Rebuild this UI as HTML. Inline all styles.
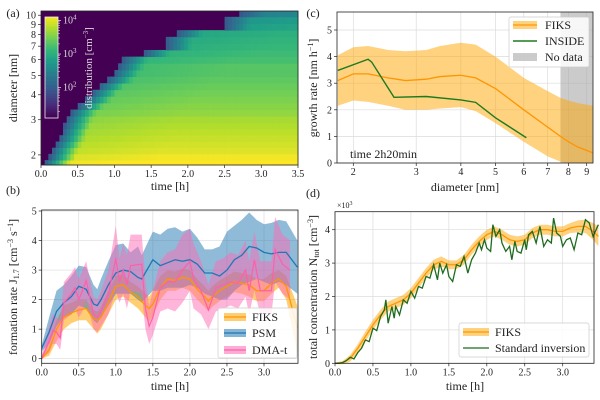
<!DOCTYPE html>
<html><head><meta charset="utf-8"><style>
html,body{margin:0;padding:0;background:#fff}
svg{display:block;font-family:"Liberation Serif","DejaVu Serif",serif}
</style></head><body>
<svg id="fig" width="600" height="400" viewBox="0 0 600 400" xmlns="http://www.w3.org/2000/svg"></svg>
<script>
// ---------- Panel (a) data ----------
const aRowDiam = [1.82,1.95,2.1,2.25,2.42,2.6,2.8,3.0,3.25,3.5,3.78,4.08,4.4,4.75,5.12,5.53,5.97,6.45,6.96,7.5,8.1,8.75,9.45,10.2];
const aRowOnset = [0.05,0.12,0.15,0.2,0.25,0.28,0.32,0.35,0.4,0.5,0.6,0.68,0.78,0.9,0.98,1.05,1.1,1.4,1.7,1.7,1.85,2.5,2.5,2.7];
const aRowPeak = [4.15,4.05,3.95,3.9,3.85,3.8,3.75,3.7,3.6,3.55,3.5,3.45,3.4,3.35,3.3,3.3,3.2,3.15,3.1,3.05,3.0,2.9,2.8,2.55];
// ---------- Panel (b) data ----------
const bPsmT = [0,0.1,0.2,0.3,0.4,0.5,0.6,0.7,0.75,0.8,0.9,1.0,1.1,1.2,1.3,1.35,1.5,1.6,1.7,1.8,1.9,2.0,2.1,2.2,2.3,2.4,2.5,2.6,2.7,2.8,2.9,3.0,3.1,3.2,3.3,3.45];
const bPsm = [0.35,0.9,1.6,1.9,2.1,2.45,2.35,1.85,1.8,2.0,2.5,2.9,3.0,2.95,2.75,2.7,3.35,3.15,3.25,3.35,3.3,3.35,3.2,2.9,2.9,2.8,3.0,3.35,3.5,3.8,3.75,3.6,3.55,3.6,3.6,3.1];
const bPsmHi = [0.45,1.4,2.3,2.5,2.8,3.15,3.1,2.5,2.35,2.7,3.3,3.85,3.9,3.6,3.8,3.5,4.3,4.2,4.4,4.45,4.3,4.4,4.1,3.7,3.7,3.8,4.3,4.5,4.7,4.95,4.7,4.55,4.6,4.7,4.65,4.0];
const bPsmLo = [0.25,0.5,1.1,1.4,1.5,1.8,1.7,1.3,1.2,1.4,1.8,2.2,2.2,2.2,2.0,1.9,2.3,2.3,2.4,2.4,2.4,2.5,2.4,2.2,2.1,2.0,2.0,2.3,2.5,2.6,2.7,2.6,2.5,2.6,2.5,2.2];
const bFiksT = [0,0.1,0.2,0.3,0.4,0.5,0.6,0.7,0.75,0.8,0.9,1.0,1.1,1.2,1.3,1.4,1.45,1.5,1.6,1.7,1.8,1.9,2.0,2.1,2.2,2.25,2.3,2.4,2.5,2.6,2.7,2.8,2.9,3.0,3.1,3.2,3.3,3.45];
const bFiks = [0.0,0.3,1.0,1.4,1.55,1.65,1.7,1.35,1.3,1.4,1.9,2.45,2.5,2.25,2.1,1.8,1.7,1.85,2.4,2.7,2.65,2.75,2.7,2.35,2.1,1.95,2.1,2.3,2.45,2.6,2.55,2.5,2.3,2.3,2.55,2.7,2.45,1.05];
const bFiksHi = [0.1,0.6,1.3,1.8,1.9,2.0,2.0,1.65,1.6,1.75,2.3,2.8,2.85,2.6,2.45,2.2,2.1,2.3,2.8,3.0,2.95,3.05,3.0,2.7,2.45,2.3,2.45,2.65,2.8,2.95,2.9,2.85,2.7,2.7,2.9,3.0,2.8,1.8];
const bFiksLo = [0.0,0.1,0.6,1.0,1.2,1.3,1.3,1.0,0.85,1.0,1.5,2.0,2.1,1.9,1.7,1.4,1.25,1.45,2.0,2.3,2.3,2.4,2.3,2.0,1.75,1.6,1.75,1.95,2.1,2.25,2.2,2.1,1.95,1.95,2.2,2.4,2.0,0.2];
const bDmaT = [0,0.1,0.15,0.2,0.25,0.3,0.4,0.45,0.5,0.55,0.6,0.7,0.75,0.8,0.9,1.0,1.05,1.1,1.15,1.2,1.35,1.4,1.45,1.5,1.6,1.7,1.8,1.9,2.0,2.05,2.15,2.25,2.35,2.45,2.55,2.65,2.75,2.8,2.87,2.95,3.1,3.15,3.25,3.35];
const bDma = [0.0,0.6,0.95,0.9,0.7,1.9,2.2,2.4,2.0,2.3,2.65,1.5,1.4,1.6,2.2,3.4,2.6,3.0,2.5,3.15,3.2,1.7,1.1,1.4,2.4,2.6,2.6,3.0,3.3,2.7,2.3,1.65,2.4,2.5,2.6,2.55,3.0,2.3,3.35,2.3,2.3,3.7,3.2,3.0];
const bDmaHi = [0.1,1.1,1.5,1.4,1.3,2.6,2.9,3.1,2.7,3.0,3.3,2.1,2.0,2.3,3.0,4.5,3.4,3.9,3.5,4.2,4.2,2.6,1.8,2.3,3.3,3.6,3.7,4.2,4.4,3.9,3.3,2.5,3.3,3.4,3.6,3.5,4.0,3.3,4.3,3.3,3.3,4.8,4.2,4.0];
const bDmaLo = [0.0,0.2,0.5,0.5,0.3,1.3,1.5,1.7,1.4,1.6,2.0,1.0,0.9,1.1,1.5,2.3,1.9,2.2,1.7,2.3,2.2,1.0,0.5,0.8,1.6,1.7,1.6,1.9,2.3,1.7,1.5,1.0,1.6,1.7,1.8,1.7,2.1,1.5,2.3,1.5,1.5,2.6,2.2,2.0];
// ---------- Panel (c) data ----------
const cFiksD = [1.81,2.0,2.2,2.5,2.8,3.2,3.5,4.0,4.4,5.0,6.0,7.0,7.6,8.0,8.5,9.37];
const cFiks = [3.1,3.35,3.35,3.2,3.1,3.15,3.25,3.3,3.2,2.8,2.0,1.35,1.0,0.8,0.6,0.38];
const cFiksHi = [4.05,4.35,4.4,4.25,4.2,4.25,4.4,4.52,4.45,4.0,3.2,2.7,2.45,2.35,2.25,2.15];
const cFiksLo = [2.15,2.35,2.3,2.15,2.0,2.0,2.05,2.1,1.95,1.5,0.8,0.25,0.05,0,0,0];
const cInsideD = [1.81,2.2,2.25,2.6,3.2,4.0,4.4,5.0,6.1];
const cInside = [3.48,3.9,3.8,2.47,2.5,2.37,2.28,1.7,0.95];
// ---------- Panel (d) data ----------
const dFiksT = [0,0.1,0.2,0.3,0.4,0.5,0.6,0.7,0.8,0.9,1.0,1.1,1.2,1.3,1.4,1.5,1.6,1.7,1.8,1.9,2.0,2.1,2.2,2.3,2.4,2.5,2.6,2.7,2.8,2.9,3.0,3.1,3.2,3.3,3.4,3.47];
const dFiks = [0,0.02,0.15,0.45,0.8,1.15,1.45,1.7,1.8,1.9,2.1,2.4,2.7,2.95,3.05,2.95,2.95,3.1,3.4,3.65,3.85,3.95,3.85,3.7,3.65,3.7,3.9,4.0,4.0,3.95,3.95,4.05,4.1,4.1,3.95,3.8];
const dFiksErr = [0.02,0.05,0.1,0.12,0.15,0.15,0.15,0.15,0.15,0.15,0.15,0.15,0.15,0.15,0.15,0.13,0.13,0.15,0.15,0.15,0.15,0.15,0.15,0.15,0.15,0.15,0.15,0.15,0.15,0.15,0.15,0.15,0.18,0.2,0.25,0.3];
const dStdT = [0,0.05,0.1,0.15,0.2,0.25,0.3,0.35,0.4,0.45,0.5,0.55,0.6,0.65,0.67,0.7,0.75,0.78,0.8,0.85,0.9,0.95,1.0,1.05,1.1,1.15,1.2,1.25,1.3,1.35,1.38,1.42,1.47,1.5,1.55,1.6,1.65,1.7,1.75,1.8,1.85,1.9,1.93,1.97,2.0,2.05,2.08,2.12,2.17,2.2,2.25,2.3,2.33,2.37,2.4,2.45,2.5,2.52,2.55,2.6,2.65,2.7,2.75,2.8,2.85,2.88,2.92,2.97,3.0,3.05,3.1,3.15,3.2,3.25,3.3,3.35,3.4,3.47];
const dStd = [0,0,0.02,0.08,0.18,0.13,0.32,0.45,0.7,0.65,1.05,0.98,1.4,1.6,1.9,1.2,1.7,1.35,1.7,1.45,1.9,1.8,2.15,1.95,2.3,2.25,2.6,2.55,2.95,2.5,3.0,2.7,2.95,2.6,2.45,2.95,2.9,3.2,2.7,3.1,3.3,3.6,3.4,3.7,3.45,3.35,4.15,3.8,4.0,3.6,3.35,3.5,3.1,3.65,3.35,3.3,3.7,3.4,3.85,3.95,3.6,4.1,3.5,3.7,3.6,4.35,3.9,3.8,3.5,3.7,3.75,3.4,3.9,3.85,4.3,4.2,3.8,4.15];

const NS="http://www.w3.org/2000/svg";
const svg=document.getElementById('fig');
const TK=10, LB=12;
function mk(tag,attrs,parent){const e=document.createElementNS(NS,tag);for(const k in attrs)e.setAttribute(k,attrs[k]);(parent||svg).appendChild(e);return e;}
function txt(s,x,y,size,anchor,parent,extra){const e=mk('text',Object.assign({x:x,y:y,'font-size':size,'text-anchor':anchor||'middle',fill:'#222'},extra||{}),parent);e.innerHTML=s;return e;}
function lin(d0,d1,p0,p1){return v=>p0+(v-d0)/(d1-d0)*(p1-p0);}
function logs(d0,d1,p0,p1){return v=>p0+(Math.log10(v)-Math.log10(d0))/(Math.log10(d1)-Math.log10(d0))*(p1-p0);}
function path(xs,ys,X,Y){return xs.map((v,i)=>(i?'L':'M')+X(v).toFixed(2)+','+Y(ys[i]).toFixed(2)).join('');}
function band(xs,lo,hi,X,Y){let d=xs.map((v,i)=>(i?'L':'M')+X(v).toFixed(2)+','+Y(hi[i]).toFixed(2)).join('');for(let i=xs.length-1;i>=0;i--)d+='L'+X(xs[i]).toFixed(2)+','+Y(lo[i]).toFixed(2);return d+'Z';}
const VIR=[[68,1,84],[72,40,120],[62,74,137],[49,104,142],[38,130,142],[31,158,137],[53,183,121],[110,206,88],[181,222,43],[253,231,37]];
function vir(t){t=Math.max(0,Math.min(1,t))*(VIR.length-1);const i=Math.min(VIR.length-2,Math.floor(t)),f=t-i;const c=VIR[i].map((v,k)=>Math.round(v+(VIR[i+1][k]-v)*f));return 'rgb('+c.join(',')+')';}

// ================= Panel (a) =================
const aL=41,aR=298,aT=11,aB=165;
const aX=lin(0,3.5,aL,aR), aY=logs(1.78,10.5,aB,aT);
const gA=mk('g',{});
mk('rect',{x:aL,y:aT,width:aR-aL,height:aB-aT,fill:'rgb(68,1,84)'},gA);
const nT=70;
for(let r=0;r<aRowDiam.length;r++){
  const yTop=aY(r<aRowDiam.length-1?Math.sqrt(aRowDiam[r]*aRowDiam[r+1]):10.5);
  const yBot=aY(r>0?Math.sqrt(aRowDiam[r]*aRowDiam[r-1]):1.78);
  for(let c=0;c<nT;c++){
    const t=(c+0.5)*3.5/nT;
    if(t<aRowOnset[r])continue;
    const dt=t-aRowOnset[r];
    let lv=1.9+ (aRowPeak[r]-0.15-1.9)*Math.min(1,dt/0.35);
    lv=Math.min(aRowPeak[r]+0.1, lv+0.1*Math.min(dt,1.5));
    const cell=mk('rect',{x:aX(c*3.5/nT).toFixed(2),y:Math.max(aT,yTop).toFixed(2),width:((aR-aL)/nT+0.4).toFixed(2),height:(Math.min(aB,yBot)-Math.max(aT,yTop)+0.4).toFixed(2),fill:vir((lv-1.1)/3.0)},gA);
    
    
  }
}
mk('rect',{x:aL,y:aT,width:aR-aL,height:aB-aT,fill:'none',stroke:'#222','stroke-width':0.8},gA);
// colorbar
const cbG=mk('g',{});
const cbY=lin(1.1,4.1,118,17);
for(let i=0;i<60;i++){const v=1.1+i*3/60;mk('rect',{x:45,y:cbY(v+3/60).toFixed(2),width:13,height:(101/60+0.3).toFixed(2),fill:vir((v-1.1)/3)},cbG);}
mk('rect',{x:45,y:17,width:13,height:101,fill:'none',stroke:'#eee','stroke-width':0.8},cbG);
[2,3,4].forEach(p=>{mk('line',{x1:58,x2:61,y1:cbY(p),y2:cbY(p),stroke:'#eee','stroke-width':0.7},cbG);txt('10<tspan dy="-4" font-size="7">'+p+'</tspan>',63,cbY(p)+3,10,'start',cbG,{fill:'#ddd'});});
for(let p=1;p<4;p++)for(let m=2;m<10;m++){const v=p+Math.log10(m);if(v<1.1||v>4.1)continue;mk('line',{x1:58,x2:60,y1:cbY(v),y2:cbY(v),stroke:'#eee','stroke-width':0.5},cbG);}
txt('distribution [cm<tspan dy="-4" font-size="7">−3</tspan><tspan dy="4">]</tspan>',0,0,11,'middle',cbG,{fill:'#ddd',transform:'translate(92,68) rotate(-90)'});
// axes a ticks
[0,0.5,1,1.5,2,2.5,3,3.5].forEach(v=>{mk('line',{x1:aX(v),x2:aX(v),y1:aB,y2:aB+3,stroke:'#222','stroke-width':0.7});txt(v.toFixed(1),aX(v),aB+12,TK);});
[2,3,4,5,6,7,8,9,10].forEach(v=>{mk('line',{x1:aL-3,x2:aL,y1:aY(v),y2:aY(v),stroke:'#222','stroke-width':0.7});txt(String(v),aL-5,aY(v)+3.5,TK,'end');});
txt('time [h]',170,190,LB,'middle',null,{});
txt('diameter [nm]',0,0,LB,'middle',null,{transform:'translate(17,88) rotate(-90)',});
txt('(a)',13,17,LB);

function axesFrame(L,R,T,B,xt,X,yt,Y){
  xt.forEach(v=>mk('line',{x1:X(v),x2:X(v),y1:T,y2:B,stroke:'#dcdcdc','stroke-width':0.7}));
  yt.forEach(v=>mk('line',{x1:L,x2:R,y1:Y(v),y2:Y(v),stroke:'#dcdcdc','stroke-width':0.7}));
}
function axesTicks(L,R,T,B,xt,X,yt,Y,fmtX,fmtY){
  mk('rect',{x:L,y:T,width:R-L,height:B-T,fill:'none',stroke:'#222','stroke-width':0.8});
  xt.forEach(v=>{mk('line',{x1:X(v),x2:X(v),y1:B,y2:B+3,stroke:'#222','stroke-width':0.7});txt(fmtX(v),X(v),B+12,TK);});
  yt.forEach(v=>{mk('line',{x1:L-3,x2:L,y1:Y(v),y2:Y(v),stroke:'#222','stroke-width':0.7});txt(fmtY(v),L-5,Y(v)+3.5,TK,'end');});
}

// ================= Panel (b) =================
const bL=41.7,bR=298,bT=210,bB=363.3;
const bX=lin(0,3.0,bL,264), bY=lin(0,5,358.7,211);
const bxt=[0,0.5,1,1.5,2,2.5,3], byt=[0,1,2,3,4,5];
axesFrame(bL,bR,bT,bB,bxt,bX,byt,bY);
const cp=mk('clipPath',{id:'cb'});
mk('rect',{x:bL,y:bT,width:bR-bL,height:bB-bT},cp);
const gB=mk('g',{'clip-path':'url(#cb)'});
mk('path',{d:band(bFiksT,bFiksLo,bFiksHi,bX,bY),fill:'#ffa500','fill-opacity':0.55,},gB);
mk('path',{d:band(bPsmT,bPsmLo,bPsmHi,bX,bY),fill:'#1f77b4','fill-opacity':0.5,},gB);
mk('path',{d:band(bDmaT,bDmaLo,bDmaHi,bX,bY),fill:'#ff69b4','fill-opacity':0.5,},gB);
mk('path',{d:path(bFiksT,bFiks,bX,bY),fill:'none',stroke:'#ff9500','stroke-width':1.3,},gB);
mk('path',{d:path(bPsmT,bPsm,bX,bY),fill:'none',stroke:'#1f77b4','stroke-width':1.3,},gB);
mk('path',{d:path(bDmaT,bDma,bX,bY),fill:'none',stroke:'#ff5fa8','stroke-width':1.2,},gB);
axesTicks(bL,bR,bT,bB,bxt,bX,byt,bY,v=>v.toFixed(1),v=>String(v));
const lgB=mk('g',{});
mk('rect',{x:218,y:308,width:79,height:50,rx:2,fill:'#fff','fill-opacity':0.85,stroke:'#ccc','stroke-width':0.7},lgB);
[['FIKS','#ffa500','#ff9500',317],['PSM','#1f77b4','#1f77b4',333],['DMA-t','#ff69b4','#ff5fa8',350]].forEach(e=>{mk('rect',{x:224,y:e[3]-4,width:22,height:8,fill:e[1],'fill-opacity':0.55},lgB);mk('line',{x1:224,x2:246,y1:e[3],y2:e[3],stroke:e[2],'stroke-width':1.3},lgB);txt(e[0],252,e[3]+4,LB,'start',lgB);});
txt('time [h]',170,390,LB);
txt('formation rate J<tspan dy="2" font-size="8">1.7</tspan><tspan dy="-2"> [cm</tspan><tspan dy="-4" font-size="8">−3</tspan><tspan dy="4"> s</tspan><tspan dy="-4" font-size="8">−1</tspan><tspan dy="4">]</tspan>',0,0,LB,'middle',null,{transform:'translate(17,287) rotate(-90)'});
txt('(b)',13,194,LB);

// ================= Panel (c) =================
const cL=337,cR=593,cT=12,cB=163;
const cX=logs(2,9,353.3,586.7), cY=lin(0,5,163,30);
const cxt=[2,3,4,5,6,7,8,9], cyt=[0,1,2,3,4,5];
axesFrame(cL,cR,cT,cB,cxt,cX,cyt,cY);
mk('rect',{x:cX(7.6),y:cT,width:cR-cX(7.6),height:cB-cT,fill:'#a9a9a9','fill-opacity':0.6,});
mk('path',{d:band(cFiksD,cFiksLo,cFiksHi,cX,cY),fill:'#ffa500','fill-opacity':0.5,});
mk('path',{d:path(cFiksD,cFiks,cX,cY),fill:'none',stroke:'#ff9500','stroke-width':1.3,});
mk('path',{d:path(cInsideD,cInside,cX,cY),fill:'none',stroke:'#1e7a1e','stroke-width':1.4,});
axesTicks(cL,cR,cT,cB,cxt,cX,cyt,cY,v=>String(v),v=>String(v));
const lgC=mk('g',{});
mk('rect',{x:509,y:17,width:80,height:50,rx:2,fill:'#fff','fill-opacity':0.85,stroke:'#ccc','stroke-width':0.7},lgC);
mk('rect',{x:513,y:21,width:24,height:8,fill:'#ffa500','fill-opacity':0.5},lgC);mk('line',{x1:513,x2:537,y1:25,y2:25,stroke:'#ff9500','stroke-width':1.3},lgC);txt('FIKS',545,29,LB,'start',lgC);
mk('line',{x1:513,x2:537,y1:41,y2:41,stroke:'#1e7a1e','stroke-width':1.4},lgC);txt('INSIDE',545,45,LB,'start',lgC);
mk('rect',{x:513,y:53,width:24,height:8,fill:'#a9a9a9','fill-opacity':0.6},lgC);txt('No data',545,61,LB,'start',lgC);
txt('time 2h20min',350,158,LB,'start',null,{});
txt('diameter [nm]',465,191,LB);
txt('growth rate [nm h<tspan dy="-4" font-size="8">−1</tspan><tspan dy="4">]</tspan>',0,0,LB,'middle',null,{transform:'translate(317,88) rotate(-90)'});
txt('(c)',313,17,LB);

// ================= Panel (d) =================
const dL=335,dR=594,dT=211.7,dB=363.3;
const dX=lin(0,3,335,562.7), dY=lin(0,4,363.3,229.7);
const dxt=[0,0.5,1,1.5,2,2.5,3], dyt=[0,1,2,3,4];
axesFrame(dL,dR,dT,dB,dxt,dX,dyt,dY);
mk('path',{d:band(dFiksT,dFiks.map((v,i)=>v-dFiksErr[i]),dFiks.map((v,i)=>v+dFiksErr[i]),dX,dY),fill:'#ffa500','fill-opacity':0.5,});
mk('path',{d:path(dFiksT,dFiks,dX,dY),fill:'none',stroke:'#ff9500','stroke-width':1.3,});
mk('path',{d:path(dStdT,dStd,dX,dY),fill:'none',stroke:'#1e6b1e','stroke-width':1.3,});
axesTicks(dL,dR,dT,dB,dxt,dX,dyt,dY,v=>v.toFixed(1),v=>String(v));
txt('×10<tspan dy="-3" font-size="6">3</tspan>',337,208,8,'start');
const lgD=mk('g',{});
mk('rect',{x:459,y:323,width:130,height:34,rx:2,fill:'#fff','fill-opacity':0.85,stroke:'#ccc','stroke-width':0.7},lgD);
mk('rect',{x:463,y:328,width:26,height:8,fill:'#ffa500','fill-opacity':0.5},lgD);mk('line',{x1:463,x2:489,y1:332,y2:332,stroke:'#ff9500','stroke-width':1.3},lgD);txt('FIKS',495,336,LB,'start',lgD);
mk('line',{x1:463,x2:489,y1:348,y2:348,stroke:'#1e6b1e','stroke-width':1.3},lgD);txt('Standard inversion',495,352,LB,'start',lgD);
txt('time [h]',465,390,LB);
txt('total concentration N<tspan dy="2" font-size="8">tot</tspan><tspan dy="-2"> [cm</tspan><tspan dy="-4" font-size="8">−3</tspan><tspan dy="4">]</tspan>',0,0,LB,'middle',null,{transform:'translate(317,287) rotate(-90)'});
txt('(d)',313,197,LB);
</script>
</body></html>
